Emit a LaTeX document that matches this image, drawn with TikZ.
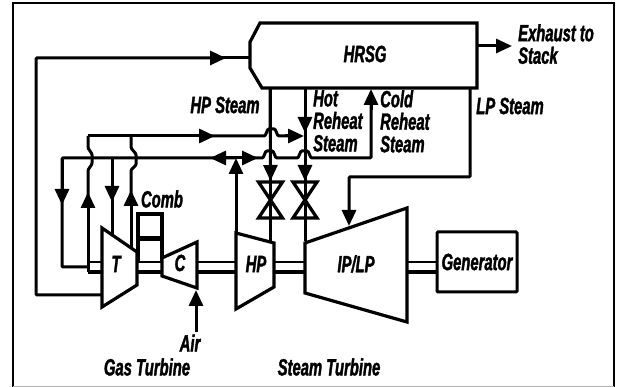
\documentclass[tikz,border=0pt]{standalone}
\usepackage{fontspec}
\setsansfont{Liberation Sans}[FakeStretch=0.63, BoldItalicFeatures={FakeBold=1.5}]
\usetikzlibrary{arrows.meta, calc, positioning}
\newcommand{\hopright}{-- ++(3,-7) -- ++(7,0) -- ++(3,7)}
\tikzset{
    unit line/.style = {line width=3.2pt, line join=miter, fill=white},
    pipe/.style = {line width=3pt, rounded corners=1pt},
    flow/.style = {pipe, -{Triangle[length=16pt, width=14pt]}},
    shaft top/.style = {line width=2.2pt},
    shaft low/.style = {line width=3.2pt},
    frame line/.style = {line width=2.5pt},
    plant label/.style = {inner sep=0pt, align=left, font=\fontsize{23.5}{22.5}\selectfont\sffamily\bfseries\itshape},
    gen box/.style = {rectangle, draw, line width=3pt, rounded corners=1pt, minimum width=80pt, minimum height=60pt, inner sep=0pt}
}
\begin{document}
\begin{tikzpicture}[x=1pt, y=-1pt]
        \useasboundingbox (0,0) rectangle (621,387);
        \fill[white] (0,0) rectangle (621,387);
        \draw[frame line] (13,387) -- (13,3) -- (614,3) -- (614,387);
        \draw[gray!60, line width=1.5pt] (13,386.5) -- (614,386.5);

        \coordinate (hrsg in) at (250,58);
        \coordinate (hrsg out) at (477,46);
        \coordinate (hrsg cold) at (371,89);
        \coordinate (hrsg hp) at (270,88);
        \coordinate (hrsg hot) at (305,88);
        \coordinate (hrsg lp) at (470,88);
        \coordinate (stack) at (512,46);
        \coordinate (t out) at (102,295);
        \coordinate (t bleed) at (62,267);
        \coordinate (t hpa) at (112,235);
        \coordinate (t hpb) at (131,249);
        \coordinate (t stub) at (88,262);
        \coordinate (hp steam) at (88,136);
        \coordinate (hp in) at (270,241);
        \coordinate (hp up) at (236,233);
        \coordinate (rh bus) at (62,158);
        \coordinate (rh tee) at (236,158);
        \coordinate (lp in) at (349,226);
        \coordinate (air in) at (196,332);
        \coordinate (air tip) at (196,290);
        \coordinate (valve a) at (270.5,200);
        \coordinate (valve b) at (305,200);

        \draw[flow] (t out) -- (36,295) -- (36,58) -- (226,58);
        \draw[pipe] (216,58) -- (hrsg in);
        \draw[flow] (hrsg out) -- (stack);
        \draw[flow] (hrsg lp) -- (470,177) -- (349,177) -- (lp in);

        \draw[pipe] (hrsg hp) -- (hp in);
        \draw[flow] (hrsg hp) -- (valve a |- 0,181);
        \draw[pipe] (hrsg hot) -- (305,241);
        \draw[flow] (hrsg hot) -- (305,133);
        \draw[flow] (305,140) -- (305,181);

        \draw[flow] (hp steam) -- (215,136);
        \draw[pipe] (205,136) -- (265,136) \hopright -- (290,136);
        \draw[flow] (285,136) -- (304,136);

        \draw[flow] (t stub) -- (88,192);
        \draw[pipe] (88,200) -- (88,170) -- (92,164) -- (92,154) -- (88,148) -- (hp steam);
        \draw[flow] (t hpb) -- (131,190);
        \draw[pipe] (131,198) -- (131,170) -- (136,165) -- (136,154) -- (131,148) -- (131,136);

        \draw[pipe] (rh tee) -- (rh bus) -- (t bleed) -- (88,267);
        \draw[flow] (rh bus) -- (62,205);
        \draw[flow] (112,158) -- (112,202);
        \draw[pipe] (112,192) -- (t hpa);
        \draw[flow] (236,158) -- (210,158);
        \draw[flow] (236,158) -- (258,158);
        \draw[flow] (hp up) -- (rh tee);
        \draw[pipe] (250,158) -- (263,158) \hopright -- (298,158) \hopright -- (371,158) -- (371,100);
        \draw[flow] (371,110) -- (hrsg cold);

        \draw[flow] (air in) -- (air tip);

        \draw[shaft top] (88,262) -- (102,262) (137,262) -- (162,262) (197,262) -- (236,262) (274,262) -- (305,262) (407,262) -- (437,262);
        \draw[shaft low] (88,272) -- (102,272) (137,272) -- (162,272) (197,272) -- (236,272) (274,272) -- (305,272) (407,272) -- (437,272);
        \draw[pipe] (88,262) -- (88,272);

        \draw[unit line, fill=none] (138,262) -- (138,214) -- (162,214) -- (162,262);
        \draw[unit line] (138,238) -- (162,238);
        \draw[unit line, line width=2pt] (138,240) -- (162,240);

        \draw[unit line] (250,42) -- (260,23) -- (477,23) -- (477,88) -- (262,88) -- (250,68) -- cycle;
        \draw[unit line] (102,228) -- (137,252) -- (137,285) -- (102,307) -- cycle;
        \draw[unit line] (162,258) -- (197,242) -- (197,288) -- (162,276) -- cycle;
        \draw[unit line] (236,233) -- (274,243) -- (274,287) -- (236,309) -- cycle;
        \draw[unit line] (305,243) -- (407,208) -- (407,322) -- (305,293) -- cycle;
        \draw[unit line, fill=none] (valve a) ++(-12,-18) -- ++(24,0) -- ++(-24,36) -- ++(24,0) -- cycle;
        \draw[unit line, fill=none] (valve b) ++(-12,-18) -- ++(24,0) -- ++(-24,36) -- ++(24,0) -- cycle;

        \node[gen box, fill=white] (gen) at (477,262) {};

        \node[plant label] (hrsglabel) at (365,54) {HRSG};
        \node[plant label, anchor=north west] (exhaustlabel) at (518,24) {Exhaust to\\Stack};
        \node[plant label] (hplabel) at (225,105) {HP Steam};
        \node[plant label, anchor=north west] (hotlabel) at (313,90) {Hot\\Reheat\\Steam};
        \node[plant label, anchor=north west] (coldlabel) at (380,90) {Cold\\Reheat\\Steam};
        \node[plant label] (lplabel) at (510,106) {LP Steam};
        \node[plant label] (comblabel) at (162,199) {Comb};
        \node[plant label] (tlabel) at (116,264) {T};
        \node[plant label] (clabel) at (180,263) {C};
        \node[plant label] (hplabel2) at (256,264) {HP};
        \node[plant label] (iplplabel) at (356,264) {IP/LP};
        \node[plant label] (genlabel) at (477,262) {Generator};
        \node[plant label] (airlabel) at (190,343) {Air};
        \node[plant label] (gaslabel) at (147,367) {Gas Turbine};
        \node[plant label] (steamlabel) at (329,367) {Steam Turbine};
\end{tikzpicture}
\end{document}
